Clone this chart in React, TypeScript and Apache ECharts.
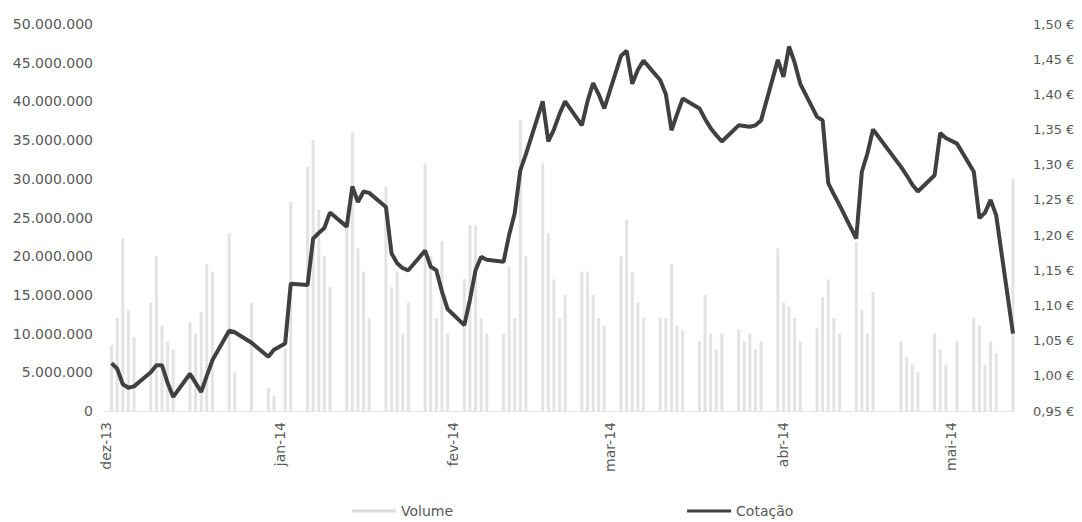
import React, { useEffect, useRef } from "react";
import * as echarts from "echarts";

// Trading days per month (day of month)
const daysDec = [2, 3, 4, 5, 6, 9, 10, 11, 12, 13, 16, 17, 18, 19, 20, 23, 24, 27, 30, 31];
const daysJan = [2, 3, 6, 7, 8, 9, 10, 13, 14, 15, 16, 17, 20, 21, 22, 23, 24, 27, 28, 29, 30, 31];
const daysFeb = [3, 4, 5, 6, 7, 10, 11, 12, 13, 14, 17, 18, 19, 20, 21, 24, 25, 26, 27, 28];
const daysMar = [3, 4, 5, 6, 7, 10, 11, 12, 13, 14, 17, 18, 19, 20, 21, 24, 25, 26, 27, 28, 31];
const daysApr = [1, 2, 3, 4, 7, 8, 9, 10, 11, 14, 15, 16, 17, 22, 23, 24, 25, 28, 29, 30];
const daysMay = [2, 5, 6, 7, 8, 9, 12];

// Cotação (€)
const priceDec = [1.018, 1.010, 0.988, 0.983, 0.985, 1.005, 1.015, 1.015, 0.990, 0.970, 1.003, 0.990, 0.977, 1.000, 1.022, 1.064, 1.062, 1.047, 1.027, 1.037];
const priceJan = [1.046, 1.131, 1.129, 1.195, 1.203, 1.210, 1.232, 1.212, 1.269, 1.247, 1.262, 1.260, 1.240, 1.174, 1.160, 1.153, 1.150, 1.178, 1.155, 1.150, 1.120, 1.095];
const priceFeb = [1.072, 1.108, 1.150, 1.169, 1.165, 1.162, 1.200, 1.231, 1.292, 1.315, 1.390, 1.333, 1.350, 1.372, 1.390, 1.356, 1.390, 1.416, 1.400, 1.380];
const priceMar = [1.455, 1.462, 1.415, 1.435, 1.448, 1.420, 1.400, 1.349, 1.372, 1.394, 1.380, 1.365, 1.352, 1.342, 1.333, 1.356, 1.355, 1.354, 1.356, 1.363, 1.449];
const priceApr = [1.425, 1.468, 1.445, 1.415, 1.368, 1.363, 1.274, 1.258, 1.243, 1.195, 1.290, 1.316, 1.350, 1.297, 1.285, 1.272, 1.262, 1.285, 1.345, 1.338];
const priceMay = [1.330, 1.290, 1.224, 1.232, 1.250, 1.228, 1.060];

// Volume (millions)
const volDec = [8.5, 12, 22.3, 13, 9.5, 14, 20, 11, 9, 8, 11.5, 10, 12.8, 19, 18, 23, 5, 14, 3, 2];
const volJan = [8, 27, 31.5, 35, 26, 20, 16, 24, 36, 21, 18, 12, 29, 16, 18, 10, 14, 32, 20, 12, 22, 10];
const volFeb = [17, 24, 24, 12, 10, 10, 18.6, 12, 37.6, 20, 32, 23, 17, 12, 15, 18, 18, 15, 12, 11];
const volMar = [20, 24.7, 18, 14, 12, 12, 12, 19, 11, 10.5, 9, 15, 10, 8, 10, 10.5, 9, 10, 8, 9, 21];
const volApr = [14, 13.5, 12, 9, 10.7, 14.7, 17, 12, 10, 21.8, 13, 10, 15.4, 9, 7, 6, 5, 10, 8, 6];
const volMay = [9, 12, 11, 6, 9, 7.5, 30];

const monthNames = ["jan", "fev", "mar", "abr", "mai", "jun", "jul", "ago", "set", "out", "nov", "dez"];

const monthsData = [
  { y: 2013, m: 12, days: daysDec, price: priceDec, vol: volDec },
  { y: 2014, m: 1, days: daysJan, price: priceJan, vol: volJan },
  { y: 2014, m: 2, days: daysFeb, price: priceFeb, vol: volFeb },
  { y: 2014, m: 3, days: daysMar, price: priceMar, vol: volMar },
  { y: 2014, m: 4, days: daysApr, price: priceApr, vol: volApr },
  { y: 2014, m: 5, days: daysMay, price: priceMay, vol: volMay },
];

const pad = (n: number) => (n < 10 ? "0" + n : "" + n);
const key = (y: number, m: number, d: number) => `${y}-${pad(m)}-${pad(d)}`;

function buildCalendar(): string[] {
  const out: string[] = [];
  const start = Date.UTC(2013, 11, 1);
  const end = Date.UTC(2014, 4, 12);
  for (let t = start; t <= end; t += 86400000) {
    const dt = new Date(t);
    out.push(key(dt.getUTCFullYear(), dt.getUTCMonth() + 1, dt.getUTCDate()));
  }
  return out;
}

export default function App() {
  const ref = useRef<HTMLDivElement>(null);
  useEffect(() => {
    document.body.style.margin = "0";
    if (!ref.current) return;
    const chart = echarts.init(ref.current, undefined, { renderer: "svg" });

    const cats = buildCalendar();
    const priceMap: Record<string, number> = {};
    const volMap: Record<string, number> = {};
    monthsData.forEach((md) => {
      md.days.forEach((d, i) => {
        const k = key(md.y, md.m, d);
        priceMap[k] = md.price[i];
        volMap[k] = md.vol[i] * 1e6;
      });
    });
    const priceSeries = cats.map((c) => (c in priceMap ? priceMap[c] : null));
    const volSeries = cats.map((c) => (c in volMap ? volMap[c] : null));

    const font = "DejaVu Sans";
    const textColor = "#595959";

    chart.setOption({
      animation: false,
      backgroundColor: "#ffffff",
      grid: { left: 106, right: 69, top: 24, bottom: 111, containLabel: false },
      legend: {
        left: 352,
        top: 503,
        itemGap: 234,
        itemWidth: 44,
        itemHeight: 3,
        padding: 0,
        textStyle: { color: textColor, fontFamily: font, fontSize: 14, lineHeight: 16 },
        data: [
          { name: "Volume", icon: "rect", itemStyle: { color: "#dedede" } },
          { name: "Cotação", icon: "rect", itemStyle: { color: "#404040" } },
        ],
      },
      xAxis: {
        type: "category",
        data: cats,
        boundaryGap: false,
        axisLine: { show: true, lineStyle: { color: "#e6e6e6", width: 1 } },
        axisTick: { show: false },
        axisLabel: {
          rotate: 90,
          interval: (_i: number, v: string) => v.endsWith("-01"),
          formatter: (v: string) => {
            const [y, m] = v.split("-");
            return `${monthNames[+m - 1]}-${y.slice(2)}`;
          },
          color: textColor,
          fontFamily: font,
          fontSize: 14,
          margin: 11,
        },
        splitLine: { show: false },
      },
      yAxis: [
        {
          type: "value",
          min: 0,
          max: 50000000,
          interval: 5000000,
          axisLine: { show: false },
          axisTick: { show: false },
          splitLine: { show: false },
          axisLabel: {
            color: textColor,
            fontFamily: font,
            fontSize: 14,
            margin: 13,
            formatter: (v: number) =>
              Math.round(v)
                .toString()
                .replace(/\B(?=(\d{3})+(?!\d))/g, "."),
          },
        },
        {
          type: "value",
          min: 0.95,
          max: 1.5,
          interval: 0.05,
          axisLine: { show: false },
          axisTick: { show: false },
          splitLine: { show: false },
          axisLabel: {
            color: textColor,
            fontFamily: font,
            fontSize: 13,
            margin: 20,
            formatter: (v: number) => v.toFixed(2).replace(".", ",") + " €",
          },
        },
      ],
      series: [
        {
          name: "Volume",
          type: "bar",
          yAxisIndex: 0,
          data: volSeries,
          barWidth: 3,
          itemStyle: { color: "#e3e3e3" },
        },
        {
          name: "Cotação",
          type: "line",
          yAxisIndex: 1,
          data: priceSeries,
          connectNulls: true,
          showSymbol: false,
          symbol: "none",
          lineStyle: { color: "#404040", width: 4 },
          itemStyle: { color: "#404040" },
        },
      ],
    });
    return () => chart.dispose();
  }, []);
  return <div ref={ref} style={{ width: 1082, height: 522 }} />;
}
